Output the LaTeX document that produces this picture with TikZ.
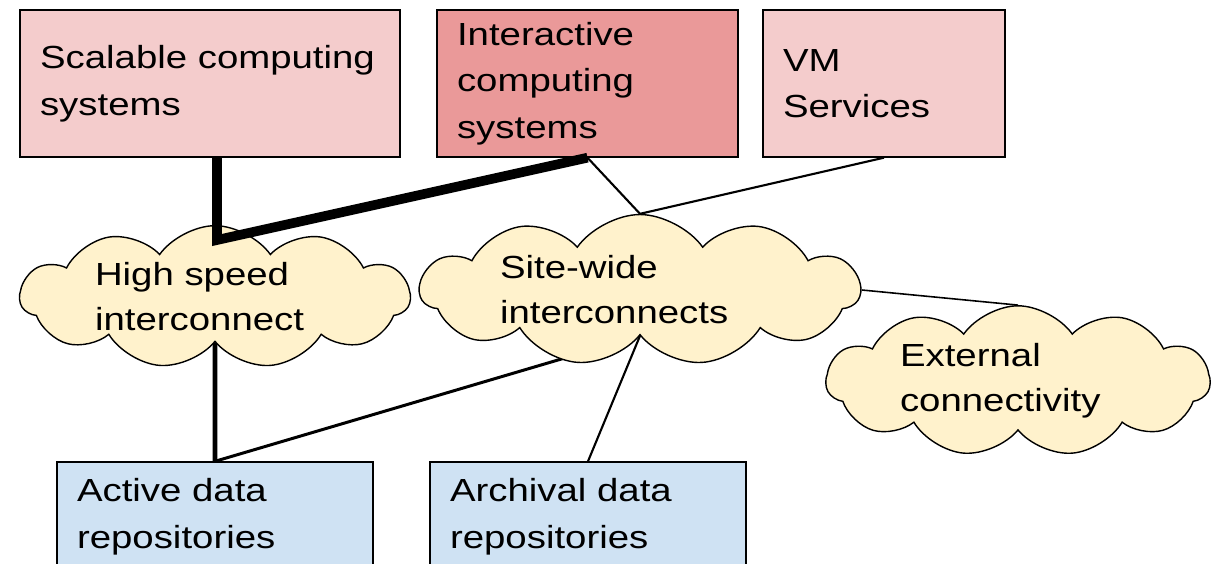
\documentclass[tikz,border=0pt]{standalone}
\usepackage{fontspec}
\setmainfont{Liberation Sans}[FakeStretch=1.2]
\usetikzlibrary{shapes.symbols,backgrounds}

\definecolor{pinklight}{HTML}{F4CCCC}
\definecolor{pinkdark}{HTML}{EA9999}
\definecolor{bluelight}{HTML}{CFE2F3}
\definecolor{cloudy}{HTML}{FFF2CC}

\begin{document}
\begin{tikzpicture}[x=0.02cm, y=-0.02cm, %1 Einheit = 1 Pixel
	box/.style={draw, line width=0.8pt, rectangle, align=left, inner xsep=0.4cm, minimum height=2.94cm, font=\fontsize{18.2}{26.5}\selectfont},
	puff/.style={draw, line width=0.8pt, cloud, cloud puffs=11, cloud puff arc=110, cloud ignores aspect, fill=cloudy, align=left, inner sep=0pt, font=\fontsize{18.2}{25.6}\selectfont},
	link/.style={draw=black}]

\useasboundingbox (0,0) rectangle (1220,564);

%Rechner oben
\node[box, fill=pinklight, text width=6.8cm] (scal) at (210,83.5) {Scalable computing\\systems};
\node[box, fill=pinkdark, text width=5.22cm] (inter) at (587.5,83.5) {Interactive\\computing\\systems};
\node[box, fill=pinklight, text width=4.04cm] (vm) at (884,83.5) {VM\\Services};

%Netze
\node[puff, text width=4.8cm, minimum width=7.8cm, minimum height=2.52cm] (hsi) at (215,297) {High speed\\interconnect};
\node[puff, text width=5.6cm, minimum width=8.8cm, minimum height=2.72cm] (sw) at (640,290) {Site-wide\\interconnects};
\node[puff, text width=4.72cm, minimum width=7.68cm, minimum height=2.76cm] (ext) at (1018,381) {External\\connectivity};

%Daten unten
\node[box, fill=bluelight, text width=5.52cm, minimum height=2.2cm] (act) at (215,517) {Active data\\repositories};
\node[box, fill=bluelight, text width=5.52cm, minimum height=2.2cm] (arch) at (588,517) {Archival data\\repositories};

\coordinate (hj) at (217,240);

\draw[link, line width=5.5pt] (scal.south -| hj) -- (hj) -- (inter.south);

\begin{pgfonlayer}{background}
\draw[link, line width=1.2pt] (inter.south) -- (sw.north);
\draw[link, line width=1.2pt] (vm.south) -- (sw.north);
\draw[link, line width=0.9pt] (sw.east) -- (ext.north);
\draw[link, line width=2.8pt] (hsi.south) -- (act.north);
\draw[link, line width=1.7pt] (sw.south) -- (act.north);
\draw[link, line width=1.2pt] (sw.south) -- (arch.north);
\end{pgfonlayer}

\end{tikzpicture}
\end{document}
